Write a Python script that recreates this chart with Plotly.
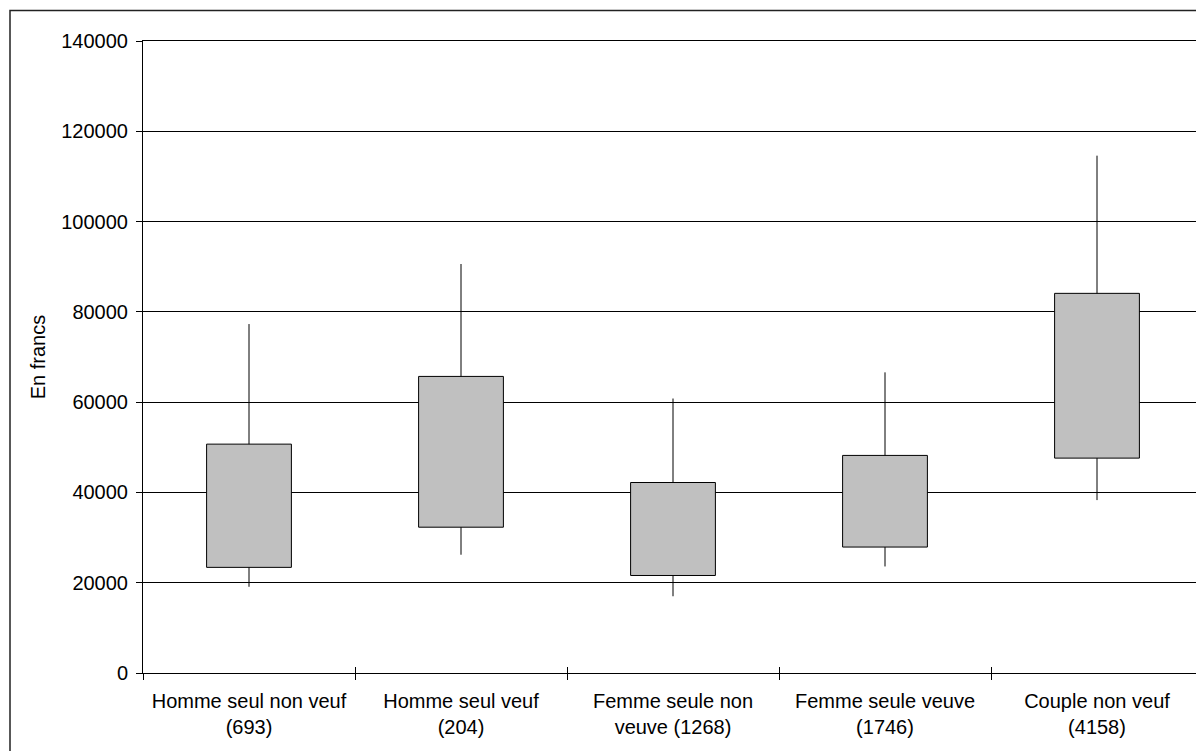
import plotly.graph_objects as go

categories = [
    "Homme seul non veuf<br>(693)",
    "Homme seul veuf<br>(204)",
    "Femme seule non<br>veuve (1268)",
    "Femme seule veuve<br>(1746)",
    "Couple non veuf<br>(4158)",
]
whisker_low = [19100, 26200, 17000, 23600, 38300]
box_low = [23400, 32300, 21600, 27900, 47600]
box_high = [50700, 65700, 42200, 48200, 84100]
whisker_high = [77300, 90600, 60800, 66600, 114600]
y_ticks = [0, 20000, 40000, 60000, 80000, 100000, 120000, 140000]
boundaries = [-0.5, 0.5, 1.5, 2.5, 3.5, 4.5]

FONT = "Liberation Sans, Arial, sans-serif"
FS = 20

# page has an 8px body margin; compensate so the figure lands where the reference does
W, H = 1196, 743
L, R, T, B = 135, 1, 33, 78
PW = W - L - R
PH = H - T - B

# whisker segments built from the data (lower and upper), separated by gaps
wx, wy = [], []
for c, lo, q1, q3, hi in zip(categories, whisker_low, box_low, box_high, whisker_high):
    wx += [c, c, None, c, c, None]
    wy += [lo, q1, None, q3, hi, None]

fig = go.Figure()
fig.add_trace(go.Scatter(
    x=wx, y=wy, mode="lines",
    line=dict(color="black", width=1),
    connectgaps=False, showlegend=False, hoverinfo="skip",
))
fig.add_trace(go.Bar(
    x=categories,
    base=box_low,
    y=[h - l for h, l in zip(box_high, box_low)],
    width=0.4,
    marker=dict(color="#C0C0C0", line=dict(color="black", width=1)),
    showlegend=False,
    hoverinfo="skip",
))

fig.update_layout(
    width=W, height=H,
    margin=dict(l=L, r=R, t=T, b=B),
    paper_bgcolor="white", plot_bgcolor="white",
    font=dict(family=FONT, size=FS, color="black"),
    xaxis=dict(
        type="category",
        categoryorder="array", categoryarray=categories,
        range=[-0.5, 4.5],
        tickson="boundaries",
        ticks="outside", ticklen=6, tickwidth=1, tickcolor="black",
        showline=True, linecolor="black", linewidth=1, mirror=True,
        showgrid=False,
        ticklabelstandoff=10,
        tickfont=dict(family=FONT, size=FS, color="black"),
        fixedrange=True,
    ),
    xaxis2=dict(
        overlaying="x", type="linear", range=[-0.5, 4.5],
        tickvals=boundaries, ticks="inside", ticklen=6, tickwidth=1,
        tickcolor="black", showticklabels=False, showgrid=False,
        showline=False, zeroline=False,
    ),
    yaxis=dict(
        range=[0, 140000],
        tickvals=y_ticks,
        ticktext=[str(v) for v in y_ticks],
        ticks="outside", ticklen=6, tickwidth=1, tickcolor="black",
        showline=True, linecolor="black", linewidth=1, mirror=True,
        showgrid=True, gridcolor="black", gridwidth=1,
        zeroline=False,
        ticklabelstandoff=4,
        tickfont=dict(family=FONT, size=FS, color="black"),
        title=dict(text="En francs", font=dict(family=FONT, size=FS, color="black"), standoff=10),
        fixedrange=True,
    ),
    shapes=[
        dict(type="rect", xref="paper", yref="paper",
             x0=(2 - L) / PW, x1=1.05, y0=-0.3, y1=1 + (T - 2.5) / PH,
             line=dict(color="#222222", width=1.5), fillcolor="rgba(0,0,0,0)", layer="below"),
    ],
)
fig.add_trace(go.Scatter(x=[0], y=[0], xaxis="x2", mode="markers",
                         marker=dict(opacity=0), showlegend=False, hoverinfo="skip"))

fig.write_html("out.html")
